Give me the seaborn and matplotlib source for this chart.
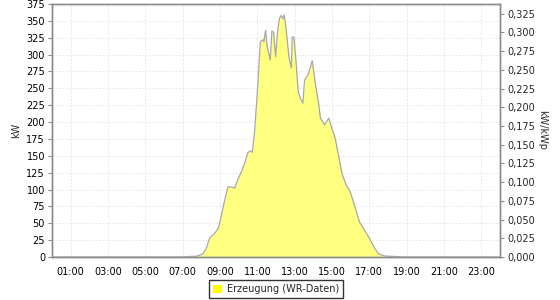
import matplotlib
matplotlib.use("Agg")
import matplotlib.pyplot as plt
from matplotlib.patches import Patch
from matplotlib.ticker import FixedLocator, FuncFormatter
import seaborn as sns
import pandas as pd

# decimal hours of the day and generation in kW
hours = [0.0, 7.0, 7.32, 7.5, 7.73, 8.08, 8.27, 8.44, 8.71, 8.92, 9.1, 9.25, 9.42, 9.6, 9.78,
         9.96, 10.14, 10.32, 10.5, 10.64, 10.73, 10.85, 11.03, 11.16, 11.3, 11.35, 11.44,
         11.53, 11.69, 11.78, 11.87, 11.98, 12.1, 12.19, 12.28, 12.37, 12.44, 12.55, 12.69,
         12.82, 12.87, 12.96, 13.08, 13.19, 13.31, 13.44, 13.53, 13.71, 13.83, 13.94, 14.12,
         14.28, 14.38, 14.6, 14.83, 14.99, 15.17, 15.36, 15.55, 15.76, 15.97, 16.2, 16.47,
         16.74, 17.0, 17.28, 17.51, 17.81, 18.7, 18.8, 24.0]
kw = [0, 0, 0.5, 1, 1, 4.4, 13, 28, 35, 43, 65, 84, 104, 104, 102,
      115, 126, 139, 155, 157.5, 155, 185, 257, 319, 322, 319, 336,
      312, 292, 335, 333, 297, 339, 354, 358, 353, 359, 336, 297,
      280, 326, 326, 287, 245, 235, 228, 262, 270, 280, 291, 255,
      228, 206, 196, 206, 191, 176, 149, 122, 107, 97, 77, 52,
      40, 28, 13, 4.4, 1.5, 0.3, 0, 0]
kwp = 1110.0
series_name = "Erzeugung (WR-Daten)"
xtick_hours = [1, 3, 5, 7, 9, 11, 13, 15, 17, 19, 21, 23]
xtick_labels = ["01:00", "03:00", "05:00", "07:00", "09:00", "11:00",
                "13:00", "15:00", "17:00", "19:00", "21:00", "23:00"]
left_ticks = list(range(0, 376, 25))
right_ticks = [i * 0.025 for i in range(14)]

df = pd.DataFrame({"h": hours, "kW": kw})

sns.set_theme(style="white")
plt.rcParams["font.family"] = ["DejaVu Sans"]

fig = plt.figure(figsize=(5.6, 3.0), dpi=100)
ax = fig.add_axes([52 / 560, 1 - 257 / 300, 448 / 560, 253 / 300])

ax.fill_between(df["h"], df["kW"], 0, color="#FFFF80", linewidth=0, zorder=2)
sns.lineplot(data=df, x="h", y="kW", ax=ax, color="#A8A8A8", linewidth=0.9, zorder=3)

ax.set_xlim(0, 24)
ax.set_ylim(0, 375)
ax.xaxis.set_major_locator(FixedLocator(xtick_hours))
ax.set_xticklabels(xtick_labels)
ax.yaxis.set_major_locator(FixedLocator(left_ticks))
ax.grid(True, color="#E2E2E2", linestyle=(0, (2, 2)), linewidth=0.6, zorder=0)
ax.set_axisbelow(True)
ax.set_xlabel("")
ax.set_ylabel("kW", fontsize=7, labelpad=4)
for s in ax.spines.values():
    s.set_color("#8C8C8C")
    s.set_linewidth(1.0)
ax.tick_params(axis="both", labelsize=7, colors="#000000", length=3, width=0.8,
               color="#8C8C8C", pad=2, direction="out")
ax.tick_params(axis="x", pad=4)

ax2 = ax.twinx()
ax2.set_ylim(0, 375 / kwp)
ax2.yaxis.set_major_locator(FixedLocator(right_ticks))
ax2.yaxis.set_major_formatter(FuncFormatter(lambda v, p: f"{v:.3f}".replace(".", ",")))
ax2.tick_params(axis="y", labelsize=7, length=3, width=0.8, color="#8C8C8C", pad=2)
ax2.set_ylabel("kW/kWp", fontsize=7, rotation=270, labelpad=9)
ax2.grid(False)
for s in ax2.spines.values():
    s.set_color("#8C8C8C")
    s.set_linewidth(1.0)

handle = Patch(facecolor="#FFFF00", edgecolor="none")
leg = fig.legend([handle], [series_name], loc="center", bbox_to_anchor=(276 / 560, 1 - 289 / 300),
                 fontsize=7, frameon=True, fancybox=False, handlelength=0.9, handleheight=0.9,
                 handletextpad=0.5, borderpad=0.4)
leg.get_frame().set_edgecolor("#000000")
leg.get_frame().set_linewidth(1.0)

fig.savefig("out.png", dpi=100)
